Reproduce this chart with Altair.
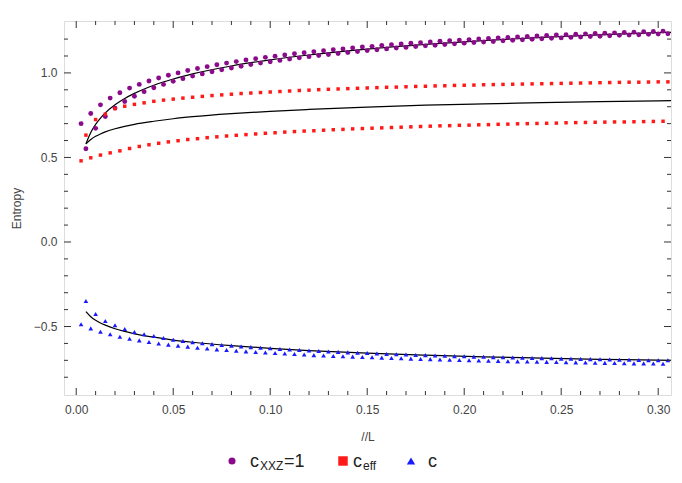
import altair as alt
import pandas as pd

# ---------------- data ----------------
L_SIZE = 400
ell = list(range(1, 123))                     # subsystem sizes ell = 1..122
ell_even = [e for e in ell if e % 2 == 0]
ell_odd = [e for e in ell if e % 2 == 1]

purple_xxz = [0.700, 0.551, 0.760, 0.672, 0.811, 0.742, 0.851, 0.792, 0.883, 0.831,
              0.910, 0.862, 0.932, 0.889, 0.952, 0.912, 0.970, 0.932, 0.986, 0.950,
              1.000, 0.966, 1.014, 0.981, 1.026, 0.994, 1.037, 1.007, 1.048, 1.018,
              1.058, 1.029, 1.067, 1.039, 1.076, 1.049, 1.084, 1.058, 1.092, 1.066,
              1.099, 1.074, 1.106, 1.082, 1.113, 1.089, 1.119, 1.096, 1.125, 1.103,
              1.131, 1.109, 1.137, 1.115, 1.142, 1.121, 1.148, 1.126, 1.153, 1.132,
              1.157, 1.137, 1.162, 1.142, 1.167, 1.147, 1.171, 1.151, 1.175, 1.156,
              1.179, 1.160, 1.183, 1.164, 1.187, 1.168, 1.190, 1.172, 1.194, 1.176,
              1.197, 1.180, 1.201, 1.183, 1.204, 1.186, 1.207, 1.190, 1.210, 1.193,
              1.213, 1.196, 1.216, 1.199, 1.218, 1.202, 1.221, 1.205, 1.224, 1.207,
              1.226, 1.210, 1.229, 1.212, 1.231, 1.215, 1.233, 1.217, 1.235, 1.220,
              1.237, 1.222, 1.239, 1.224, 1.241, 1.226, 1.243, 1.228, 1.245, 1.230,
              1.247, 1.232]

ceff_even = [0.632, 0.724, 0.756, 0.789, 0.803, 0.814, 0.823, 0.832, 0.839, 0.845,
             0.851, 0.856, 0.861, 0.866, 0.870, 0.874, 0.878, 0.881, 0.884, 0.887,
             0.890, 0.893, 0.896, 0.898, 0.901, 0.903, 0.905, 0.907, 0.909, 0.911,
             0.913, 0.915, 0.916, 0.918, 0.920, 0.921, 0.923, 0.924, 0.926, 0.927,
             0.928, 0.930, 0.931, 0.932, 0.933, 0.934, 0.935, 0.936, 0.937, 0.938,
             0.939, 0.940, 0.941, 0.942, 0.943, 0.944, 0.945, 0.945, 0.946, 0.947,
             0.947]

ceff_odd = [0.480, 0.498, 0.514, 0.527, 0.539, 0.553, 0.565, 0.575, 0.584, 0.592,
            0.599, 0.606, 0.611, 0.617, 0.622, 0.627, 0.631, 0.635, 0.639, 0.643,
            0.646, 0.650, 0.653, 0.656, 0.658, 0.661, 0.664, 0.666, 0.669, 0.671,
            0.673, 0.675, 0.677, 0.679, 0.681, 0.683, 0.685, 0.687, 0.688, 0.690,
            0.691, 0.693, 0.694, 0.696, 0.697, 0.699, 0.700, 0.701, 0.702, 0.703,
            0.705, 0.706, 0.707, 0.708, 0.709, 0.710, 0.710, 0.711, 0.712, 0.713,
            0.714]

c_blue = [-0.487, -0.349, -0.511, -0.426, -0.531, -0.467, -0.546, -0.493, -0.560, -0.515,
          -0.572, -0.532, -0.582, -0.546, -0.592, -0.556, -0.600, -0.568, -0.607, -0.578,
          -0.613, -0.586, -0.619, -0.593, -0.625, -0.599, -0.630, -0.604, -0.635, -0.609,
          -0.639, -0.613, -0.643, -0.618, -0.647, -0.622, -0.651, -0.626, -0.654, -0.629,
          -0.657, -0.633, -0.660, -0.636, -0.663, -0.639, -0.666, -0.642, -0.669, -0.645,
          -0.671, -0.648, -0.674, -0.650, -0.676, -0.653, -0.678, -0.655, -0.680, -0.657,
          -0.682, -0.660, -0.684, -0.662, -0.686, -0.664, -0.688, -0.666, -0.690, -0.668,
          -0.692, -0.669, -0.693, -0.671, -0.695, -0.673, -0.696, -0.675, -0.698, -0.676,
          -0.699, -0.678, -0.701, -0.679, -0.702, -0.681, -0.703, -0.682, -0.705, -0.683,
          -0.706, -0.685, -0.707, -0.686, -0.708, -0.687, -0.709, -0.688, -0.710, -0.690,
          -0.711, -0.691, -0.712, -0.692, -0.713, -0.693, -0.714, -0.694, -0.715, -0.695,
          -0.716, -0.696, -0.717, -0.697, -0.718, -0.698, -0.718, -0.699, -0.719, -0.699,
          -0.720, -0.700]

curve_x = [0.005, 0.0075, 0.01, 0.0125, 0.015, 0.02, 0.025, 0.03, 0.04, 0.05, 0.06,
           0.08, 0.10, 0.12, 0.15, 0.18, 0.21, 0.24, 0.27, 0.30, 0.31]
curve_xxz = [0.581, 0.648, 0.696, 0.733, 0.764, 0.812, 0.849, 0.879, 0.927, 0.964, 0.994,
             1.041, 1.077, 1.106, 1.141, 1.169, 1.191, 1.210, 1.225, 1.238, 1.241]
curve_ceff = [0.580, 0.606, 0.625, 0.639, 0.651, 0.670, 0.684, 0.696, 0.714, 0.729, 0.741,
              0.759, 0.773, 0.784, 0.798, 0.809, 0.817, 0.824, 0.830, 0.835, 0.837]
curve_c = [-0.412, -0.442, -0.463, -0.479, -0.492, -0.513, -0.529, -0.543, -0.563, -0.580,
           -0.593, -0.613, -0.629, -0.642, -0.657, -0.669, -0.679, -0.687, -0.694, -0.699,
           -0.701]

x_major = [0.00, 0.05, 0.10, 0.15, 0.20, 0.25, 0.30]
x_minor = [0.01, 0.02, 0.03, 0.04, 0.06, 0.07, 0.08, 0.09, 0.11, 0.12, 0.13, 0.14,
           0.16, 0.17, 0.18, 0.19, 0.21, 0.22, 0.23, 0.24, 0.26, 0.27, 0.28, 0.29]
y_major = [-0.5, 0.0, 0.5, 1.0]
y_minor = [-0.8, -0.7, -0.6, -0.4, -0.3, -0.2, -0.1, 0.1, 0.2, 0.3, 0.4,
           0.6, 0.7, 0.8, 0.9, 1.1, 1.2]

# ---------------- layout ----------------
W, H = 607, 374
FRAME = "#555555"
TICK = "#333333"
TXT = "#444444"
FONT = "Liberation Sans"

xs = alt.Scale(domain=[-0.0063, 0.3066], nice=False, zero=False)
ys = alt.Scale(domain=[-0.905, 1.307], nice=False, zero=False)

df_p = pd.DataFrame({"x": [e / L_SIZE for e in ell], "y": purple_xxz})
df_re = pd.DataFrame({"x": [e / L_SIZE for e in ell_even], "y": ceff_even})
df_ro = pd.DataFrame({"x": [e / L_SIZE for e in ell_odd], "y": ceff_odd})
df_b = pd.DataFrame({"x": [e / L_SIZE for e in ell], "y": c_blue})
df_cur = pd.DataFrame({
    "x": curve_x * 3,
    "y": curve_xxz + curve_ceff + curve_c,
    "g": ["xxz"] * len(curve_x) + ["ceff"] * len(curve_x) + ["c"] * len(curve_x),
})

x_axis = alt.Axis(values=x_major, format=".2f", ticks=False, domain=False, grid=False,
                  labelPadding=9, labelFontSize=12, labelColor=TXT, labelFont=FONT,
                  title="//L", titleFontSize=12, titleFontWeight="normal", titleColor=TXT,
                  titleFont=FONT, titlePadding=16)
y_axis = alt.Axis(values=y_major, format=".1f", ticks=False, domain=False, grid=False,
                  labelPadding=7, labelFontSize=12, labelColor=TXT, labelFont=FONT,
                  title="Entropy", titleFontSize=12, titleFontWeight="normal", titleColor=TXT,
                  titleFont=FONT, titlePadding=10)

curves = alt.Chart(df_cur).mark_line(color="black", strokeWidth=1.2, clip=True,
                                      interpolate="monotone").encode(
    x=alt.X("x:Q", scale=xs, axis=x_axis),
    y=alt.Y("y:Q", scale=ys, axis=y_axis),
    detail="g:N",
)

pts_p = alt.Chart(df_p).mark_point(shape="circle", filled=True, size=24, color="#8b0a8b",
                                   opacity=1, clip=True).encode(
    x=alt.X("x:Q", scale=xs), y=alt.Y("y:Q", scale=ys))
pts_re = alt.Chart(df_re).mark_point(shape="square", filled=True, size=12, color="#ff1a1a",
                                     opacity=1, clip=True).encode(
    x=alt.X("x:Q", scale=xs), y=alt.Y("y:Q", scale=ys))
pts_ro = alt.Chart(df_ro).mark_point(shape="square", filled=True, size=12, color="#ff1a1a",
                                     opacity=1, clip=True).encode(
    x=alt.X("x:Q", scale=xs), y=alt.Y("y:Q", scale=ys))
pts_b = alt.Chart(df_b).mark_point(shape="triangle-up", filled=True, size=22, color="#1a1aff",
                                   opacity=1, clip=True).encode(
    x=alt.X("x:Q", scale=xs), y=alt.Y("y:Q", scale=ys))


def xticks(vals, length):
    d = pd.DataFrame({"v": vals})
    bot = alt.Chart(d).mark_rule(color=TICK, strokeWidth=1).encode(
        x=alt.X("v:Q", scale=xs), y=alt.value(H), y2=alt.value(H - length))
    top = alt.Chart(d).mark_rule(color=TICK, strokeWidth=1).encode(
        x=alt.X("v:Q", scale=xs), y=alt.value(0), y2=alt.value(length))
    return [bot, top]


def yticks(vals, length):
    d = pd.DataFrame({"v": vals})
    lft = alt.Chart(d).mark_rule(color=TICK, strokeWidth=1).encode(
        y=alt.Y("v:Q", scale=ys), x=alt.value(0), x2=alt.value(length))
    rgt = alt.Chart(d).mark_rule(color=TICK, strokeWidth=1).encode(
        y=alt.Y("v:Q", scale=ys), x=alt.value(W), x2=alt.value(W - length))
    return [lft, rgt]


ticks = xticks(x_major, 7) + xticks(x_minor, 4) + yticks(y_major, 7) + yticks(y_minor, 4)

# ---------------- legend (drawn below the plot) ----------------
LY = 440  # legend centre line in view coordinates


def sym(shape, color, size, xpos):
    return alt.Chart(pd.DataFrame({"a": [0]})).mark_point(
        shape=shape, filled=True, size=size, color=color, opacity=1).encode(
        x=alt.value(xpos), y=alt.value(LY))


def txt(s, xpos, ypos, fs):
    return alt.Chart(pd.DataFrame({"t": [s]})).mark_text(
        align="left", baseline="alphabetic", font=FONT, fontSize=fs, color="#222222").encode(
        x=alt.value(xpos), y=alt.value(ypos), text="t:N")


legend = [
    sym("circle", "#8b0a8b", 50, 168),
    txt("c", 186, 446, 18),
    txt("XXZ", 196, 449, 12),
    txt("=1", 220, 446, 18),
    sym("square", "#ff1a1a", 90, 279),
    txt("c", 289, 446, 18),
    txt("eff", 299, 449, 12),
    sym("triangle-up", "#1a1aff", 70, 347),
    txt("c", 364, 446, 18),
]

chart = alt.layer(curves, pts_p, pts_re, pts_ro, pts_b, *ticks, *legend).properties(
    width=W, height=H,
    autosize=alt.AutoSizeParams(type="none"),
    padding={"left": 64, "top": 21, "right": 11, "bottom": 88},
).configure_view(stroke=FRAME, strokeWidth=1).configure(background="white")

chart.save("out.html", embed_options={"renderer": "svg", "actions": False})
